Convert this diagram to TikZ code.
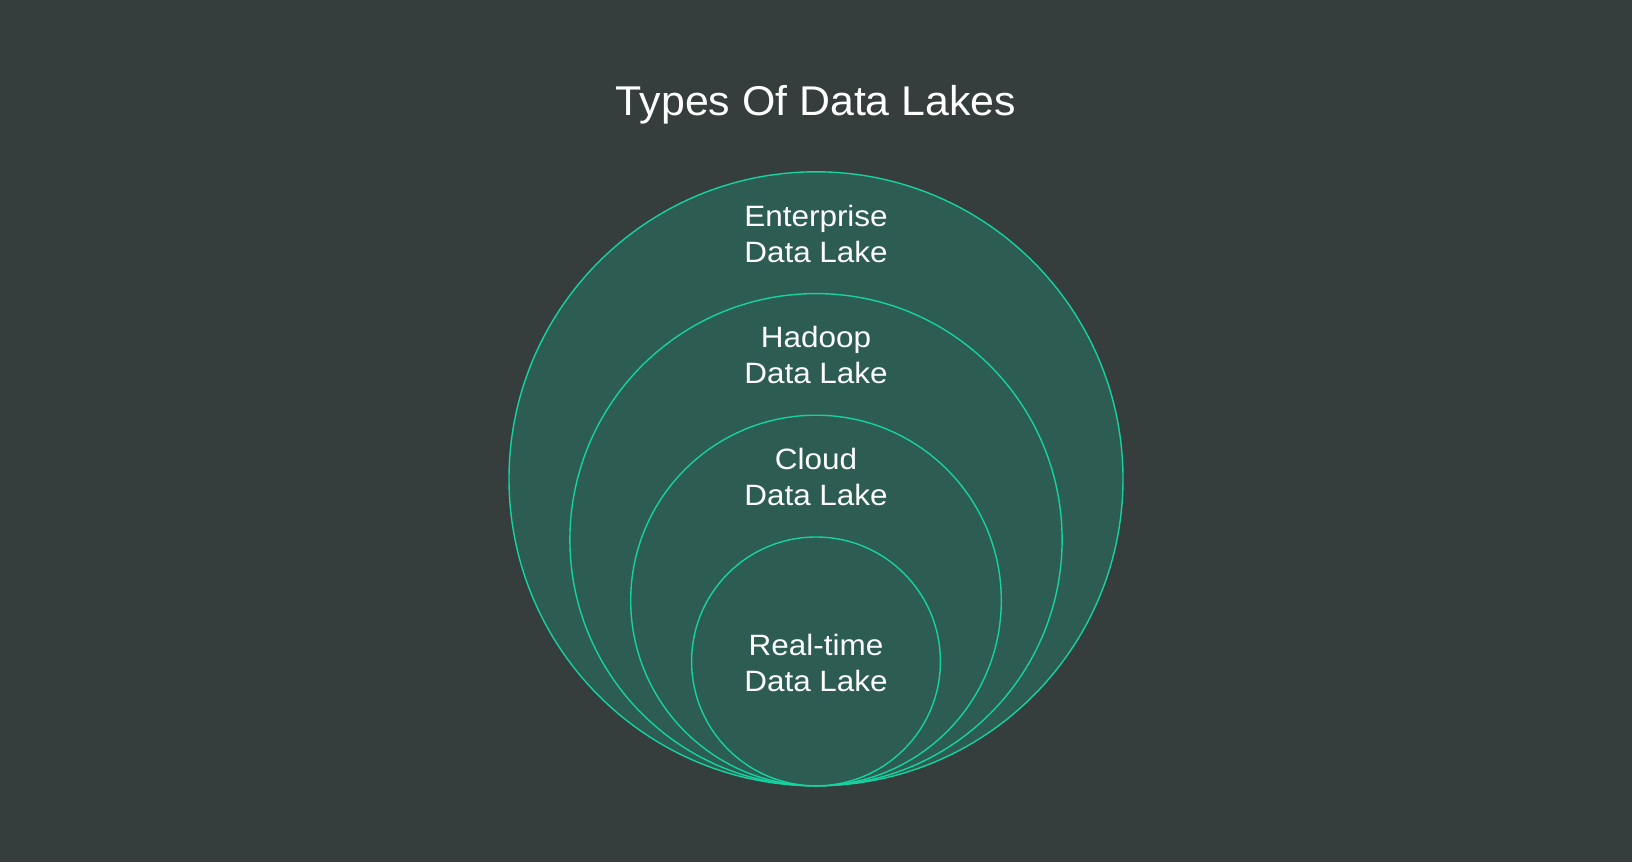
\documentclass[tikz,border=0pt]{standalone}
\usepackage{fontspec}
\setmainfont{Liberation Sans}
\newfontfamily\lblfont[FakeStretch=1.07]{Liberation Sans}
\newfontfamily\ttlfont[FakeStretch=1.03]{Liberation Sans}
\definecolor{bgc}{HTML}{353E3D}
\definecolor{fillc}{HTML}{2D5C52}
\definecolor{ringc}{HTML}{14D3A0}
\begin{document}
\begin{tikzpicture}[x=0.5pt,y=-0.5pt,
  ring/.style={draw=ringc,fill=fillc,line width=0.7pt},
  lbl/.style={text=white,font=\lblfont\fontsize{14.7pt}{18pt}\selectfont,align=center,anchor=base,inner sep=0pt},
  ttl/.style={text=white,font=\ttlfont\fontsize{20.8pt}{25pt}\selectfont,anchor=base,inner sep=0pt}]
\fill[bgc] (0,0) rectangle (1632,862);
\useasboundingbox (0,0) rectangle (1632,862);
\node[ttl] (title) at (816,115) {Types Of Data Lakes};
\path[ring] (816,478.8) circle[radius=307];
\path[ring] (816,539.7) circle[radius=246.1];
\path[ring] (816,600.5) circle[radius=185.3];
\path[ring] (816,661.4) circle[radius=124.4];
\node[lbl] (ent1) at (816,226) {Enterprise};
\node[lbl] (ent2) at (816,262) {Data Lake};
\node[lbl] (had1) at (816,347.8) {Hadoop};
\node[lbl] (had2) at (816,383.8) {Data Lake};
\node[lbl] (clo1) at (816,469.6) {Cloud};
\node[lbl] (clo2) at (816,505.6) {Data Lake};
\node[lbl] (rt1) at (816,655) {Real-time};
\node[lbl] (rt2) at (816,691) {Data Lake};
\end{tikzpicture}
\end{document}
